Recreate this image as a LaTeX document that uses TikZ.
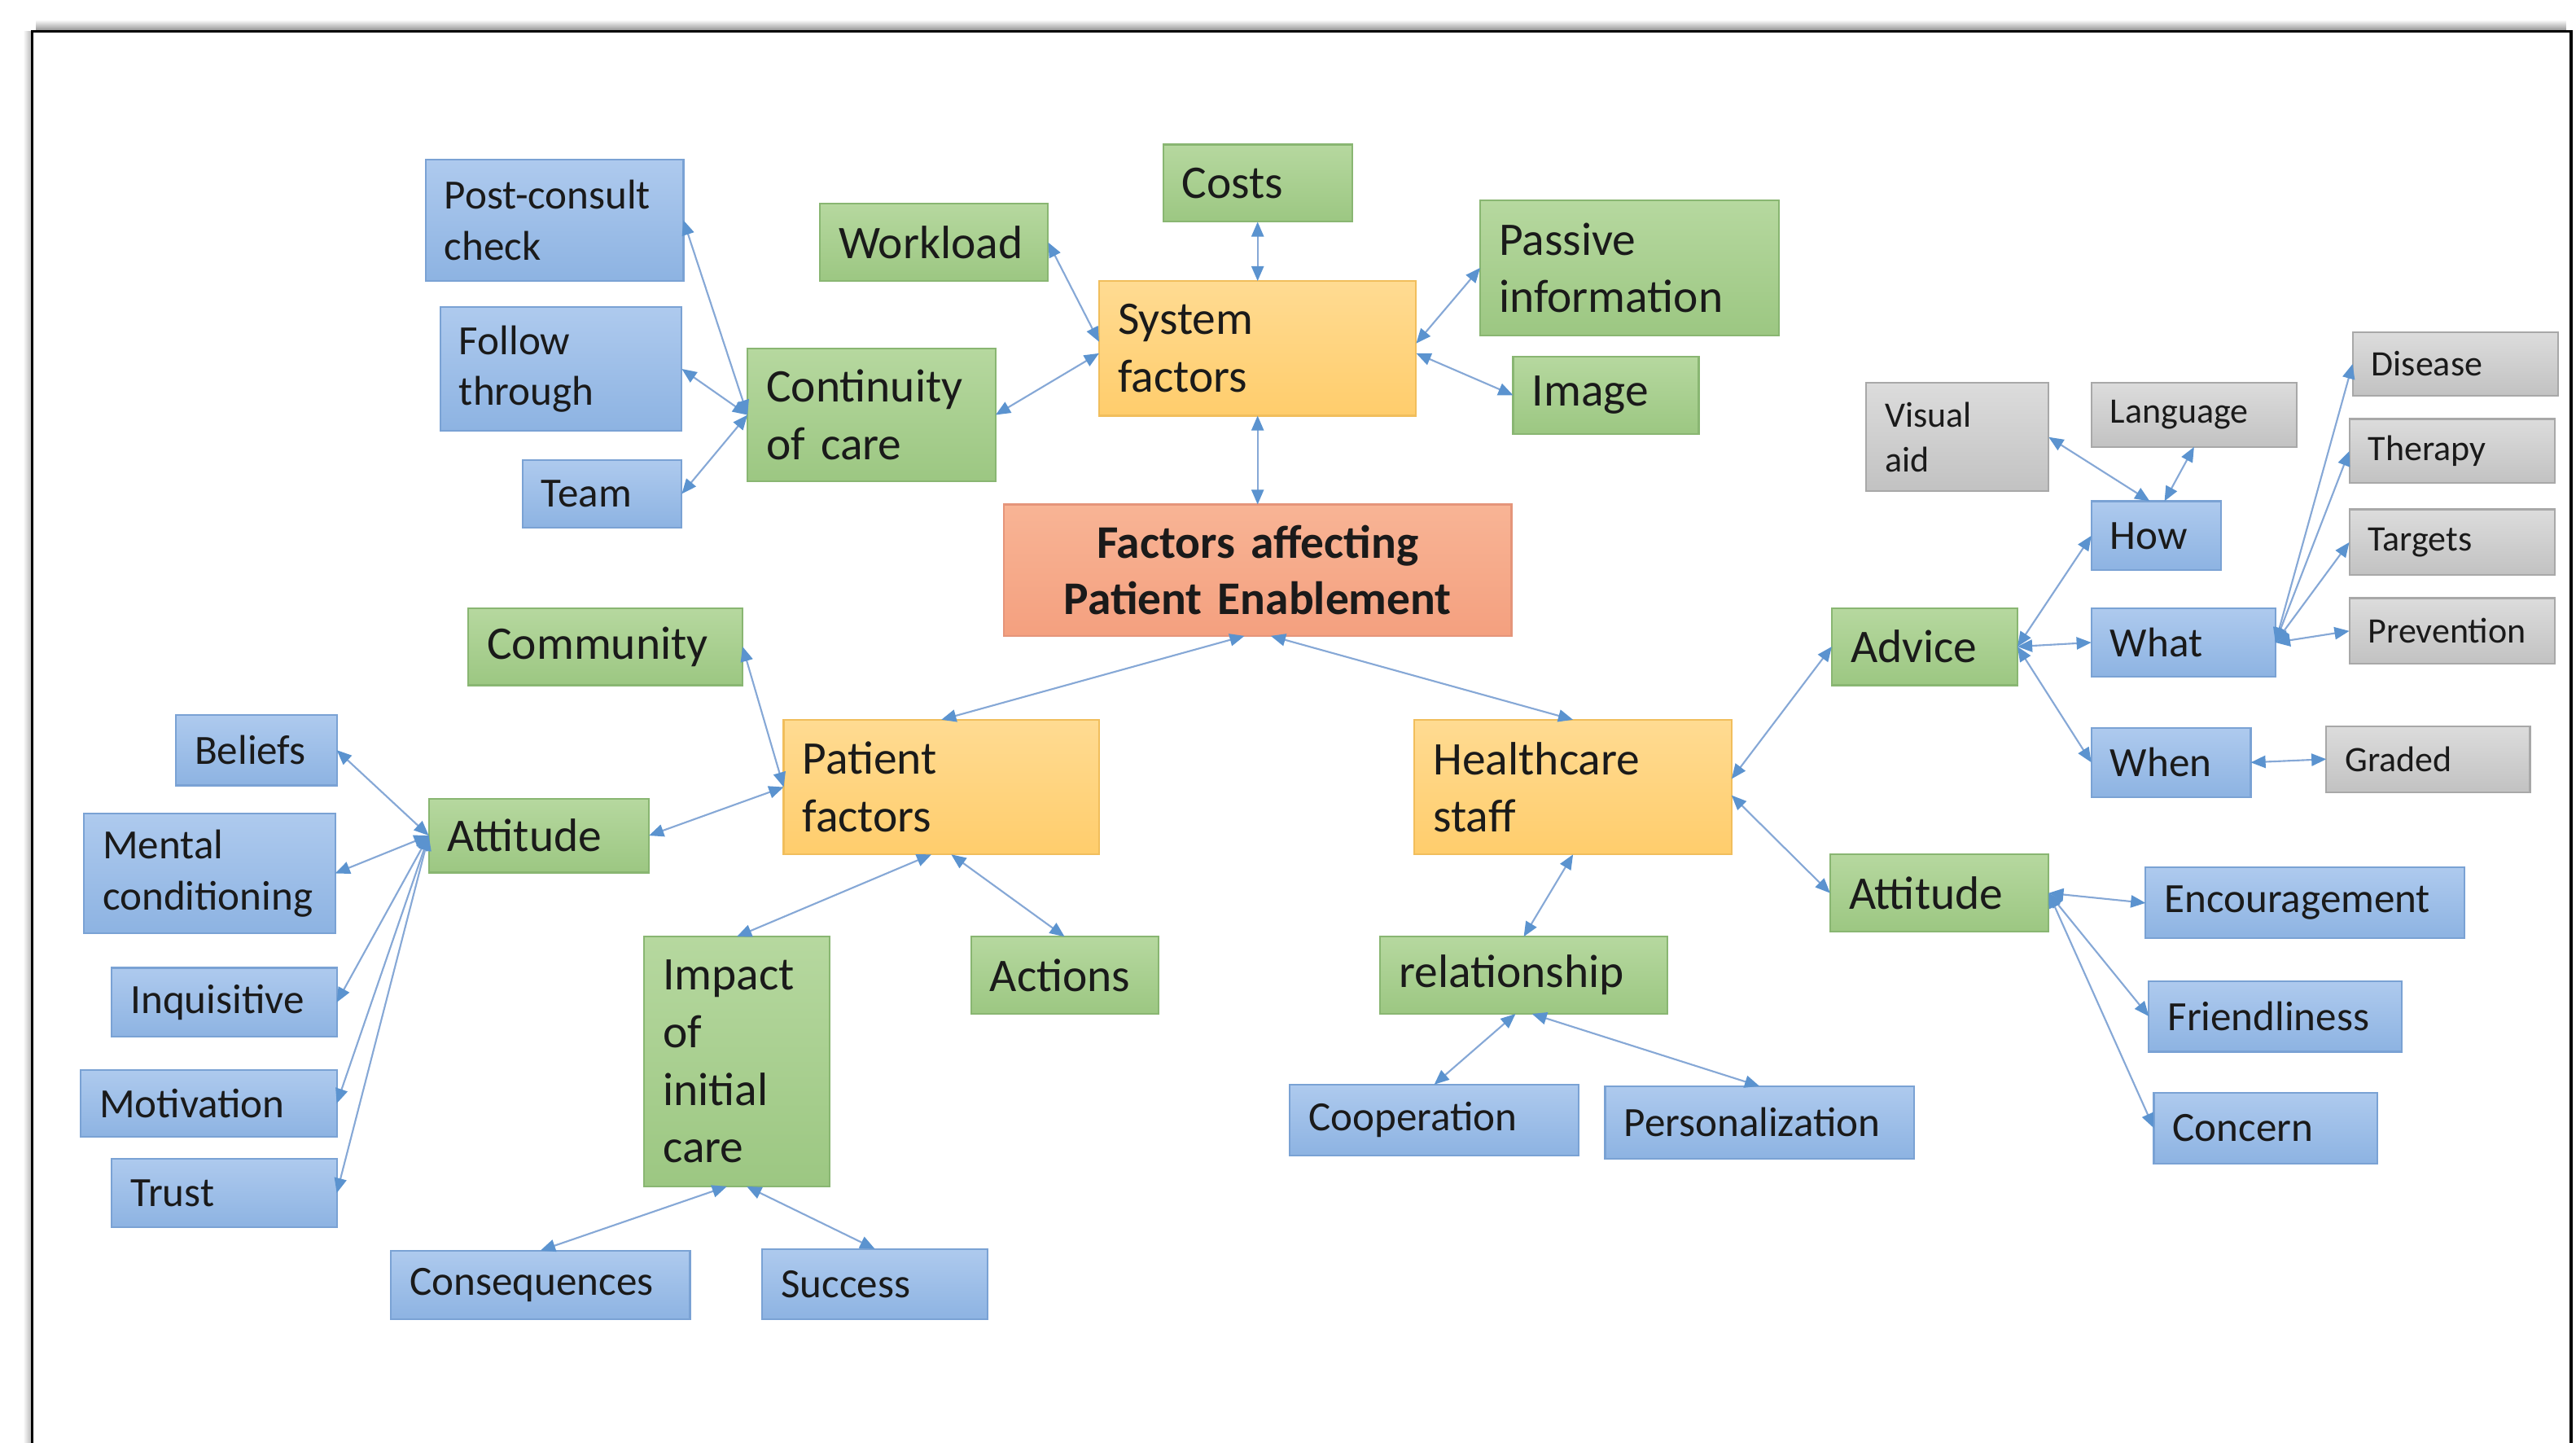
\documentclass[tikz,border=0pt]{standalone}
\usepackage{fontspec}
\setmainfont{Carlito}
\usetikzlibrary{arrows.meta,calc}

\definecolor{ink}{HTML}{1A1A1A}
\definecolor{blueT}{HTML}{AECAEE}
\definecolor{blueB}{HTML}{8DB3E2}
\definecolor{blueD}{HTML}{7AA2D4}
\definecolor{greenT}{HTML}{B6D89F}
\definecolor{greenB}{HTML}{9CC782}
\definecolor{greenD}{HTML}{89B672}
\definecolor{orangeT}{HTML}{FFDB92}
\definecolor{orangeB}{HTML}{FFCD6C}
\definecolor{orangeD}{HTML}{F1BE5C}
\definecolor{salT}{HTML}{F8B495}
\definecolor{salB}{HTML}{F4A07F}
\definecolor{salD}{HTML}{E5957A}
\definecolor{greyT}{HTML}{DCDCDC}
\definecolor{greyB}{HTML}{C2C2C2}
\definecolor{greyD}{HTML}{A8A8A8}
\definecolor{lineC}{HTML}{86A8D6}
\definecolor{tipC}{HTML}{5B93CF}

\tikzset{
  box/.style={draw, rectangle, inner xsep=0.23cm, inner ysep=0pt, outer sep=0pt,
    line width=0.6pt, align=left, text=ink},
  bluebox/.style={box, top color=blueT, bottom color=blueB, draw=blueD,
    font=\fontsize{14.4}{17.6}\selectfont},
  greenbox/.style={box, top color=greenT, bottom color=greenB, draw=greenD,
    font=\fontsize{16.2}{19.9}\selectfont},
  orangebox/.style={box, top color=orangeT, bottom color=orangeB, draw=orangeD,
    font=\fontsize{16.2}{19.9}\selectfont},
  titlebox/.style={box, top color=salT, bottom color=salB, draw=salD, align=center,
    font=\bfseries\fontsize{16.2}{19.4}\selectfont},
  greybox/.style={box, top color=greyT, bottom color=greyB, draw=greyD,
    font=\fontsize{12.4}{15.4}\selectfont},
  tipshape/.style={},
  link/.style={draw=lineC, line width=0.6pt,
    arrows={Triangle[length=1.8mm,width=1.5mm,color=tipC]-Triangle[length=1.8mm,width=1.5mm,color=tipC]}},
}

% \placebox{style}{name}{x1}{y1}{x2}{y2}{text}: box spanning the given corners
\newcommand\placebox[7]{%
  \pgfmathsetmacro\bxw{(#5-#3)*0.02-0.46}%
  \pgfmathsetmacro\bxh{(#6-#4)*0.02}%
  \node[#1, text width=\bxw cm, minimum height=\bxh cm] (#2) at ({(#3+#5)/2},{(#4+#6)/2}) {#7};%
}

\begin{document}
\hyphenpenalty=10000
\exhyphenpenalty=10000
\begin{tikzpicture}[x=0.02cm, y=-0.02cm]
\useasboundingbox (0,0) rectangle (1568,878);

% page frame with its soft shadow
\shade[top color=white, bottom color=black!45] (22,12) rectangle (1562,19);
\shade[left color=white, right color=black!30] (14,19) rectangle (19.5,878);
\draw[line width=0.9pt, black] (19.5,878) -- (19.5,19) -- (1565,19) -- (1565,878);

% system factors branch
\placebox{greenbox}{costs}{708}{88}{823}{135}{Costs}
\placebox{greenbox}{work}{499}{124}{638}{171}{Workload}
\placebox{orangebox}{sys}{669}{171}{862}{253}{System\\factors}
\placebox{greenbox}{pass}{901}{122}{1083}{204}{Passive\\information}
\placebox{greenbox}{img}{921}{217}{1034}{264}{Image}
\placebox{bluebox}{post}{259}{97}{416}{171}{Post-consult\\check}
\placebox{bluebox}{follow}{268}{187}{415}{262}{Follow\\through}
\placebox{greenbox}{cont}{455}{212}{606}{293}{Continuity\\of care}
\placebox{bluebox}{team}{318}{280}{415}{321}{Team}

% central node
\placebox{titlebox}{fae}{611}{307}{920}{387}{Factors affecting\\Patient Enablement}

% patient factors branch
\placebox{greenbox}{comm}{285}{370}{452}{417}{Community}
\placebox{orangebox}{pat}{477}{438}{669}{520}{Patient\\factors}
\placebox{greenbox}{attl}{261}{486}{395}{531}{Attitude}
\placebox{bluebox}{beliefs}{107}{435}{205}{478}{Beliefs}
\placebox{bluebox}{mental}{51}{495}{204}{568}{Mental\\conditioning}
\placebox{bluebox}{inq}{68}{589}{205}{631}{Inquisitive}
\placebox{bluebox}{motiv}{49}{651}{205}{692}{Motivation}
\placebox{bluebox}{trust}{68}{705}{205}{747}{Trust}
\placebox{greenbox}{impact}{392}{570}{505}{722}{Impact\\of\\initial\\care}
\placebox{greenbox}{act}{591}{570}{705}{617}{Actions}
\placebox{bluebox}{conseq}{238}{761}{420}{803}{Consequences}
\placebox{bluebox}{succ}{464}{760}{601}{803}{Success}

% healthcare staff branch
\placebox{orangebox}{hc}{861}{438}{1054}{520}{Healthcare\\staff}
\placebox{greenbox}{rel}{840}{570}{1015}{617}{relationship}
\placebox{bluebox}{coop}{785}{660}{961}{703}{Cooperation}
\placebox{bluebox}{pers}{977}{661}{1165}{705}{Personalization}
\placebox{greenbox}{adv}{1115}{370}{1228}{417}{Advice}
\placebox{greenbox}{attr}{1114}{520}{1247}{567}{Attitude}
\placebox{bluebox}{enc}{1306}{528}{1500}{571}{Encouragement}
\placebox{bluebox}{friend}{1308}{597}{1462}{640}{Friendliness}
\placebox{bluebox}{concern}{1311}{665}{1447}{708}{Concern}
\placebox{bluebox}{how}{1273}{305}{1352}{347}{How}
\placebox{bluebox}{what}{1273}{370}{1385}{412}{What}
\placebox{bluebox}{when}{1273}{443}{1370}{485}{When}
\placebox{greybox}{visual}{1136}{233}{1247}{299}{Visual\\aid}
\placebox{greybox}{lang}{1273}{233}{1398}{272}{Language}
\placebox{greybox}{disease}{1432}{202}{1557}{241}{Disease}
\placebox{greybox}{therapy}{1430}{255}{1555}{294}{Therapy}
\placebox{greybox}{targets}{1430}{310}{1555}{350}{Targets}
\placebox{greybox}{prev}{1430}{364}{1555}{404}{Prevention}
\placebox{greybox}{graded}{1416}{442}{1540}{482}{Graded}

% connectors: system factors
\draw[link] (costs.south) -- (sys.north);
\draw[link] (work.east) -- ($(sys.west)+(0,-4)$);
\draw[link] (cont.east) -- ($(sys.west)+(0,3)$);
\draw[link] ($(sys.east)+(0,-3)$) -- (pass.west);
\draw[link] ($(sys.east)+(0,3)$) -- (img.west);
\draw[link] (sys.south) -- (fae.north);
\draw[link] (cont.west) -- (post.east);
\draw[link] (cont.west) -- (follow.east);
\draw[link] (cont.west) -- (team.east);

% connectors: central node
\draw[link] ($(fae.south)+(-8,0)$) -- (pat.north);
\draw[link] ($(fae.south)+(8,0)$) -- (hc.north);

% connectors: patient factors
\draw[link] (pat.west) -- (comm.east);
\draw[link] (pat.west) -- (attl.east);
\draw[link] (attl.west) -- (beliefs.east);
\draw[link] (attl.west) -- (mental.east);
\draw[link] (attl.west) -- (inq.east);
\draw[link] (attl.west) -- (motiv.east);
\draw[link] (attl.west) -- (trust.east);
\draw[link] ($(pat.south)+(-6,0)$) -- (impact.north);
\draw[link] ($(pat.south)+(6,0)$) -- (act.north);
\draw[link] ($(impact.south)+(-6,0)$) -- (conseq.north);
\draw[link] ($(impact.south)+(6,0)$) -- (succ.north);

% connectors: healthcare staff
\draw[link] (hc.south) -- (rel.north);
\draw[link] ($(rel.south)+(-5,0)$) -- (coop.north);
\draw[link] ($(rel.south)+(5,0)$) -- (pers.north);
\draw[link] ($(hc.east)+(0,-5)$) -- (adv.west);
\draw[link] ($(hc.east)+(0,5)$) -- (attr.west);
\draw[link] (adv.east) -- (how.west);
\draw[link] (adv.east) -- (what.west);
\draw[link] (adv.east) -- (when.west);
\draw[link] ($(how.north)+(-4,0)$) -- (visual.east);
\draw[link] ($(how.north)+(5,0)$) -- (lang.south);
\draw[link] (what.east) -- (disease.west);
\draw[link] (what.east) -- (therapy.west);
\draw[link] (what.east) -- (targets.west);
\draw[link] (what.east) -- (prev.west);
\draw[link] (when.east) -- (graded.west);
\draw[link] (attr.east) -- (enc.west);
\draw[link] (attr.east) -- (friend.west);
\draw[link] (attr.east) -- (concern.west);
\end{tikzpicture}
\end{document}
